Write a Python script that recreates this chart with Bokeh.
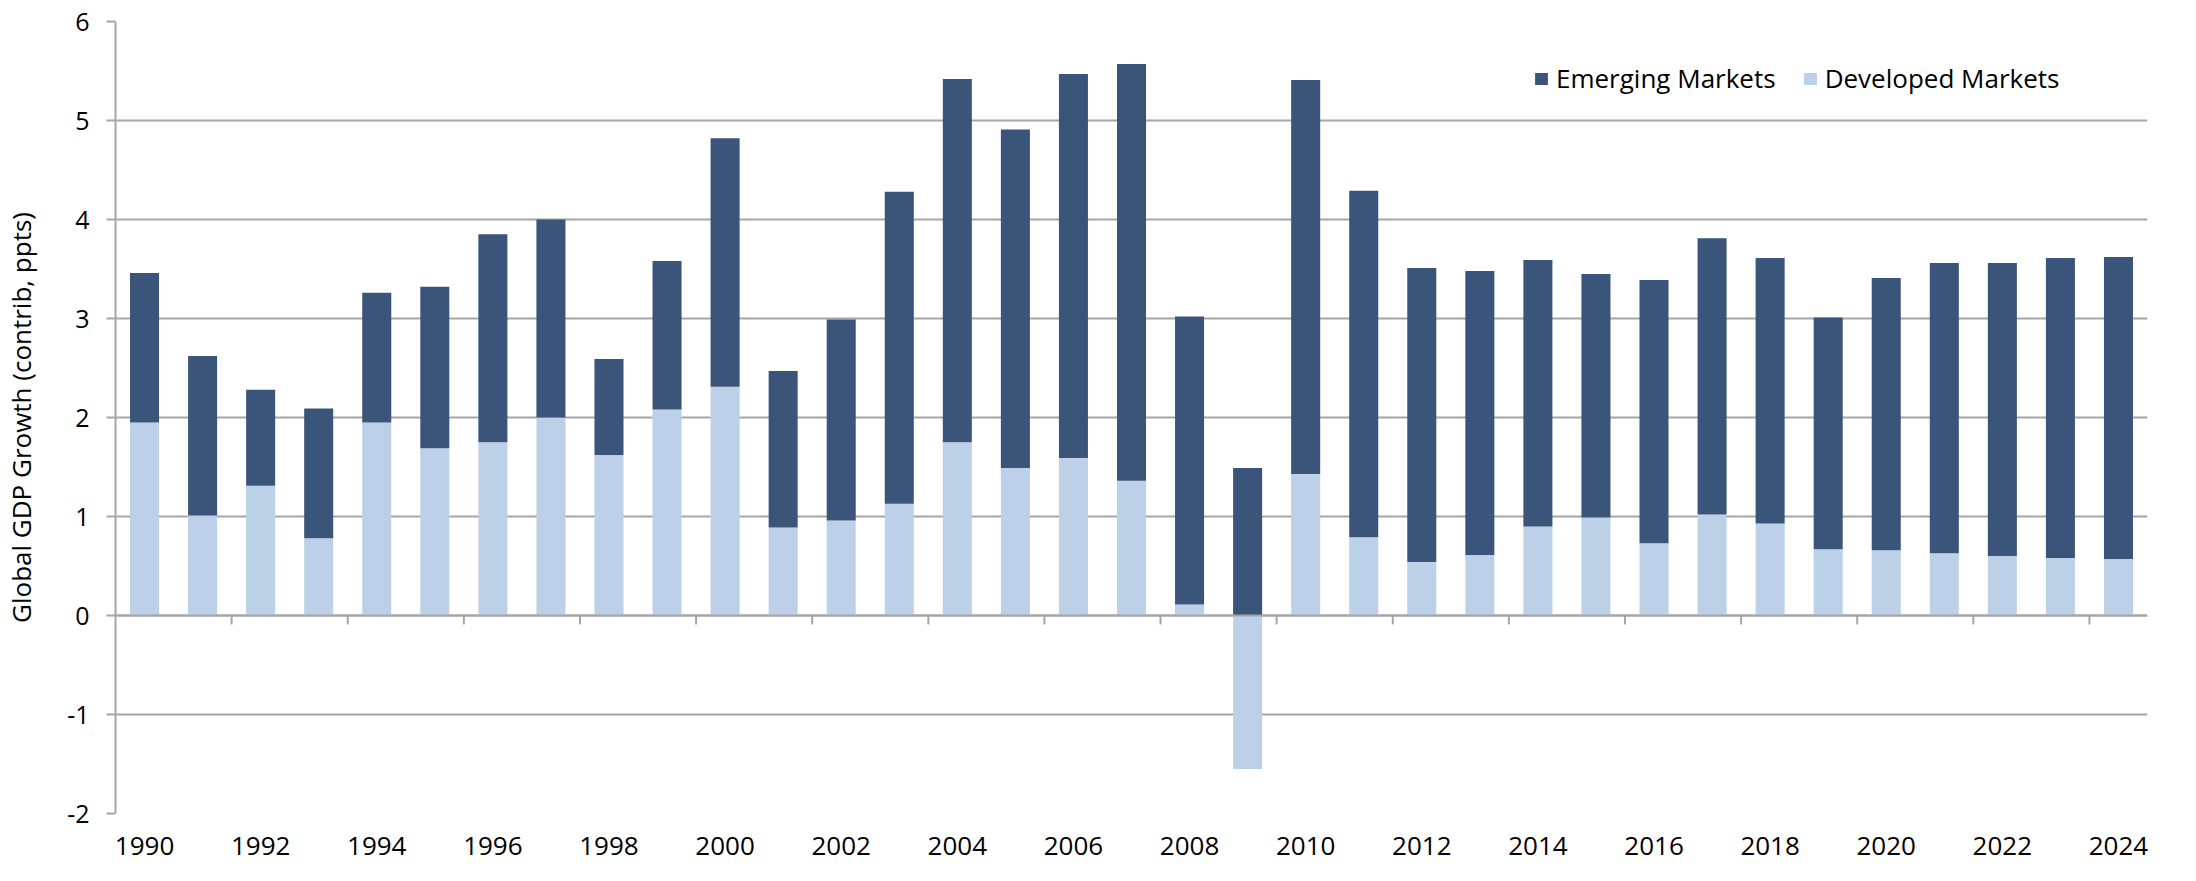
from bokeh.plotting import figure
from bokeh.models import Range1d, FixedTicker, Span, Legend, LegendItem, ColumnDataSource
from bokeh.embed import file_html
from bokeh.resources import INLINE

# ---- data ----
years = list(range(1990, 2025))
developed = [1.95, 1.01, 1.31, 0.78, 1.95, 1.69, 1.75, 2.00, 1.62, 2.08,
             2.31, 0.89, 0.96, 1.13, 1.75, 1.49, 1.59, 1.36, 0.11, -1.55,
             1.43, 0.79, 0.54, 0.61, 0.90, 0.99, 0.73, 1.02, 0.93, 0.67,
             0.66, 0.63, 0.60, 0.58, 0.57]
total_top = [3.46, 2.62, 2.28, 2.09, 3.26, 3.32, 3.85, 4.00, 2.59, 3.58,
             4.82, 2.47, 2.99, 4.28, 5.42, 4.91, 5.47, 5.57, 3.02, 1.49,
             5.41, 4.29, 3.51, 3.48, 3.59, 3.45, 3.39, 3.81, 3.61, 3.01,
             3.41, 3.56, 3.56, 3.61, 3.62]
emerging = [round(t - max(d, 0), 2) for t, d in zip(total_top, developed)]
x_tick_labels = years[::2]
y_ticks = [-2, -1, 0, 1, 2, 3, 4, 5, 6]
series_names = ["Emerging Markets", "Developed Markets"]

DARK = "#3B5479"
LIGHT = "#BCD0E7"
GRID = "#A6A6A6"
FONT = "Open Sans"

src = ColumnDataSource(dict(
    year=years,
    dev_bottom=[min(d, 0) for d in developed],
    dev_top=[max(d, 0) for d in developed],
    em_bottom=[max(d, 0) for d in developed],
    em_top=[max(d, 0) + e for d, e in zip(developed, emerging)],
))

p = figure(width=2180, height=865,
           x_range=Range1d(1989.5, 2024.5), y_range=Range1d(-2, 6),
           output_backend="svg", toolbar_location=None,
           min_border_left=114, min_border_top=21,
           min_border_right=33, min_border_bottom=52)
p.outline_line_color = None
p.background_fill_color = "white"

# grid
p.xgrid.visible = False
p.ygrid.ticker = FixedTicker(ticks=y_ticks)
p.ygrid.grid_line_color = GRID
p.ygrid.grid_line_width = 2

r_dev = p.vbar(x="year", width=0.5, bottom="dev_bottom", top="dev_top",
               source=src, fill_color=LIGHT, line_color=None)
r_em = p.vbar(x="year", width=0.5, bottom="em_bottom", top="em_top",
              source=src, fill_color=DARK, line_color=None)

# zero line with category-boundary ticks
p.add_layout(Span(location=0, dimension="width", line_color=GRID, line_width=2))
tick_x = [y + 0.5 for y in years[1::2]]
p.segment(x0=tick_x, y0=[0] * len(tick_x), x1=tick_x, y1=[-0.09] * len(tick_x),
          line_color=GRID, line_width=2)

# y axis
ya = p.yaxis[0]
ya.ticker = FixedTicker(ticks=y_ticks)
ya.major_label_overrides = {-1: "-1", -2: "-2"}
ya.axis_line_color = GRID
ya.axis_line_width = 2
ya.major_tick_line_color = GRID
ya.major_tick_line_width = 2
ya.major_tick_out = 9
ya.major_tick_in = 0
ya.minor_tick_line_color = None
ya.major_label_text_font = FONT
ya.major_label_text_font_size = "25px"
ya.major_label_text_color = "black"
ya.major_label_standoff = 17
ya.axis_label = "Global GDP Growth (contrib, ppts)"
ya.axis_label_text_font = FONT
ya.axis_label_text_font_size = "26px"
ya.axis_label_text_font_style = "normal"
ya.axis_label_text_color = "black"
ya.axis_label_standoff = 25

# x axis
xa = p.xaxis[0]
xa.ticker = FixedTicker(ticks=x_tick_labels)
xa.axis_line_color = None
xa.major_tick_line_color = None
xa.minor_tick_line_color = None
xa.major_tick_out = 0
xa.major_tick_in = 0
xa.major_label_standoff = 23
xa.major_label_text_font = FONT
xa.major_label_text_font_size = "26px"
xa.major_label_text_color = "black"

legend = Legend(items=[LegendItem(label=series_names[0], renderers=[r_em]),
                       LegendItem(label=series_names[1], renderers=[r_dev])],
                orientation="horizontal", location=(1418, 717),
                glyph_width=16, glyph_height=15, label_standoff=7, spacing=26,
                padding=0, margin=0, border_line_color=None,
                background_fill_alpha=0,
                label_text_font=FONT, label_text_font_size="26px",
                label_text_color="black")
p.add_layout(legend)

open("out.html", "w").write(file_html(p, INLINE))
